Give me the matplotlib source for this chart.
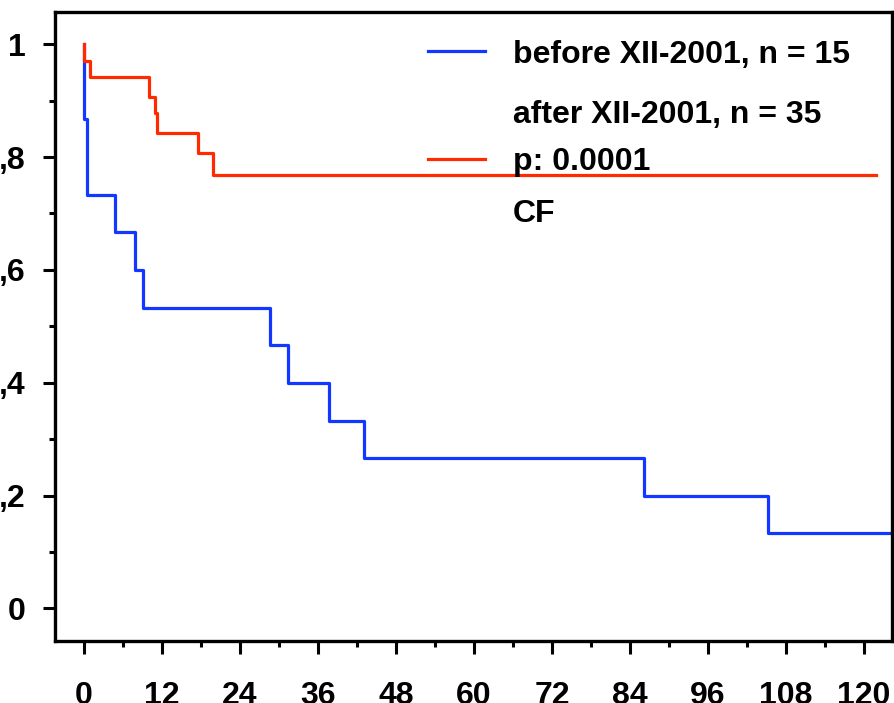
import matplotlib
matplotlib.use('Agg')
import matplotlib.pyplot as plt
from matplotlib.lines import Line2D
from matplotlib.ticker import MultipleLocator

# ── Data ──────────────────────────────────────────────────────────────────────
before_t = [0, 0, 0.5, 4.7, 7.8, 9.1, 28.7, 31.4, 37.7, 43.1, 86.1, 105.3, 125]
before_s = [1.0, 0.867, 0.733, 0.667, 0.600, 0.533, 0.467, 0.400, 0.333, 0.267, 0.200, 0.133, 0.133]

after_t = [0, 0, 1.0, 10.0, 10.9, 11.3, 17.5, 19.8, 121.8]
after_s = [1.0, 0.971, 0.942, 0.906, 0.878, 0.843, 0.807, 0.768, 0.768]

x_ticks = [0, 12, 24, 36, 48, 60, 72, 84, 96, 108, 120]
y_ticks = [0, 0.2, 0.4, 0.6, 0.8, 1.0]
y_labels = ['0', ',2', ',4', ',6', ',8', '1']

legend_labels = ['before XII-2001, n = 15', 'after XII-2001, n = 35', 'p: 0.0001', 'CF']

# ── Style ─────────────────────────────────────────────────────────────────────
C_BLUE = '#1238ff'
C_RED = '#ff2a00'
plt.rcParams['font.family'] = ['Liberation Sans', 'DejaVu Sans']
plt.rcParams['font.weight'] = 'bold'

fig = plt.figure(figsize=(8.94, 7.03), dpi=100)
ax = fig.add_axes([0.0615, 0.0886, 0.936, 0.8948])

ax.step(before_t, before_s, where='post', color=C_BLUE, lw=2.3)
ax.step(after_t, after_s, where='post', color=C_RED, lw=2.3)

ax.set_xlim(-4.46, 124.3)
ax.set_ylim(-0.0574, 1.0578)

ax.set_xticks(x_ticks)
ax.set_xticklabels([str(v) for v in x_ticks], fontsize=23, fontweight='bold')
ax.set_yticks(y_ticks)
ax.set_yticklabels(y_labels, fontsize=23, fontweight='bold')
ax.xaxis.set_minor_locator(MultipleLocator(6))
ax.yaxis.set_minor_locator(MultipleLocator(0.1))

ax.tick_params(axis='both', which='major', length=9, width=2.2, direction='out')
ax.tick_params(axis='both', which='minor', length=4, width=2.2, direction='out')
ax.tick_params(axis='x', which='major', pad=20)
ax.tick_params(axis='y', which='major', pad=12)

for spine in ax.spines.values():
    spine.set_linewidth(2.4)
    spine.set_color('black')

# ── Legend block (uneven row spacing like the original) ──────────────────────
row_y = [0.918, 0.823, 0.748, 0.665]      # text baselines, axes fraction
text_x = 0.547
key_x = (0.4457, 0.5139)
key_rows = {0: (C_BLUE, 0.938), 2: (C_RED, 0.7653)}

for i, label in enumerate(legend_labels):
    ax.text(text_x, row_y[i], label, transform=ax.transAxes, fontsize=23,
            fontweight='bold', ha='left', va='baseline')
for i, (col, ky) in key_rows.items():
    ax.add_line(Line2D(key_x, [ky, ky], transform=ax.transAxes, color=col, lw=2.3))

fig.savefig('out.png', dpi=100)
